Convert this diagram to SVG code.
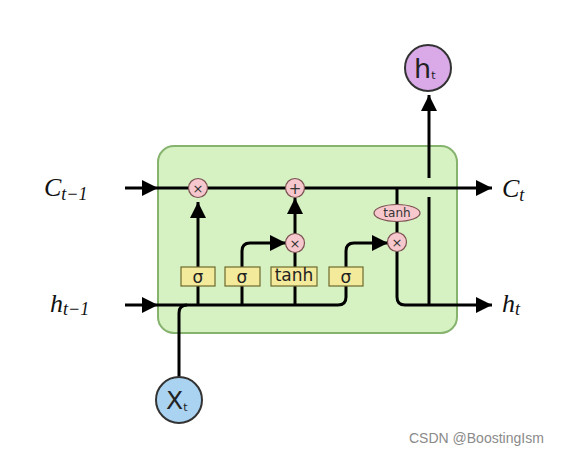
<svg xmlns="http://www.w3.org/2000/svg" width="578" height="457" viewBox="0 0 578 457">
<style>
.ln{fill:none;stroke:#000;stroke-width:3;}
.arr{marker-end:url(#ah);}
.gate rect{fill:#f3ea9c;stroke:#6d6a2c;stroke-width:1.2;}
.gate text{font-family:"DejaVu Sans","Liberation Sans",sans-serif;font-size:17px;fill:#222;text-anchor:middle;}
.op circle,.op ellipse{fill:#f6c8cd;stroke:#7a5050;stroke-width:1.2;}
.op text{font-family:"DejaVu Sans","Liberation Sans",sans-serif;fill:#333;text-anchor:middle;}
.math{font-family:"Liberation Serif",serif;font-style:italic;fill:#111;}
.io{font-family:"DejaVu Sans","Liberation Sans",sans-serif;fill:#222;}
</style>
<defs>
<marker id="ah" viewBox="0 0 16 16" refX="16" refY="8" markerWidth="16" markerHeight="16" markerUnits="userSpaceOnUse" orient="auto">
<path d="M0,0 L16,8 L0,16 Z" fill="#000"/>
</marker>
</defs>
<rect width="578" height="457" fill="#fff"/>
<g id="cell">
<rect x="158" y="146" width="299" height="187" rx="16" fill="#d6f1c2" stroke="#86b36e" stroke-width="2"/>
</g>
<g id="connectors">
<path class="ln arr" d="M125,188 H158"/>
<path class="ln arr" d="M158,188 H492"/>
<path class="ln arr" d="M125,305 H158"/>
<path class="ln" d="M158,305 H338 Q346,305 346,297 V251 Q346,243 354,243 H388" marker-end="url(#ah)"/>
<path class="ln" d="M179,377 V313 Q179,305 187,305"/>
<path class="ln arr" d="M198,305 V202"/>
<path class="ln arr" d="M242,305 V251 Q242,243 250,243 H286"/>
<path class="ln" d="M295,305 V252"/>
<path class="ln arr" d="M295,234 V198"/>
<path class="ln" d="M397,188 V213"/>
<path class="ln" d="M397,213 V234"/>
<path class="ln arr" d="M397,250 V297 Q397,305 405,305 H492"/>
<path class="ln" d="M429,305 V197"/>
<path class="ln arr" d="M429,178 V95"/>
</g>
<g id="forget_mul" class="op"><circle cx="198" cy="188" r="9.5"/><text x="198" y="193" font-size="13">×</text></g>
<g id="add" class="op"><circle cx="295" cy="188" r="9.5"/><text x="295" y="193.5" font-size="15">+</text></g>
<g id="input_mul" class="op"><circle cx="295" cy="243" r="9.5"/><text x="295" y="248" font-size="13">×</text></g>
<g id="output_mul" class="op"><circle cx="397" cy="242" r="9.5"/><text x="397" y="247" font-size="13">×</text></g>
<g id="tanh_out" class="op"><ellipse cx="397" cy="213" rx="23" ry="8.5"/><text x="397" y="217" font-size="12">tanh</text></g>
<g id="sigma1" class="gate"><rect x="181" y="267" width="34" height="19"/><text x="198" y="283">σ</text></g>
<g id="sigma2" class="gate"><rect x="225" y="267" width="35" height="19"/><text x="242" y="283">σ</text></g>
<g id="tanh_gate" class="gate"><rect x="271" y="267" width="46" height="19"/><text x="294" y="281" font-size="12">tanh</text></g>
<g id="sigma3" class="gate"><rect x="329" y="267" width="34" height="19"/><text x="346" y="283">σ</text></g>
<g id="xt">
<circle cx="179" cy="400" r="23" fill="#a9d3f1" stroke="#333" stroke-width="2"/>
<text class="io" x="166" y="409" font-size="25">X<tspan font-size="11" dy="2">t</tspan></text>
</g>
<g id="ht_out">
<circle cx="428" cy="68" r="23" fill="#d9a9e8" stroke="#333" stroke-width="2"/>
<text class="io" x="414" y="78" font-size="27">h<tspan font-size="11" dy="1">t</tspan></text>
</g>
<g id="labels">
<text class="math" x="44" y="196" font-size="26">C<tspan font-size="18" dy="4">t−1</tspan></text>
<text class="math" x="50" y="312" font-size="26">h<tspan font-size="18" dy="3">t−1</tspan></text>
<text class="math" x="502" y="197" font-size="26">C<tspan font-size="18" dy="4">t</tspan></text>
<text class="math" x="502" y="312" font-size="26">h<tspan font-size="18" dy="3">t</tspan></text>
</g>
<text x="409" y="443" font-family="Liberation Sans, Arial, sans-serif" font-size="14" fill="#8a8a8a">CSDN @BoostingIsm</text>
</svg>
